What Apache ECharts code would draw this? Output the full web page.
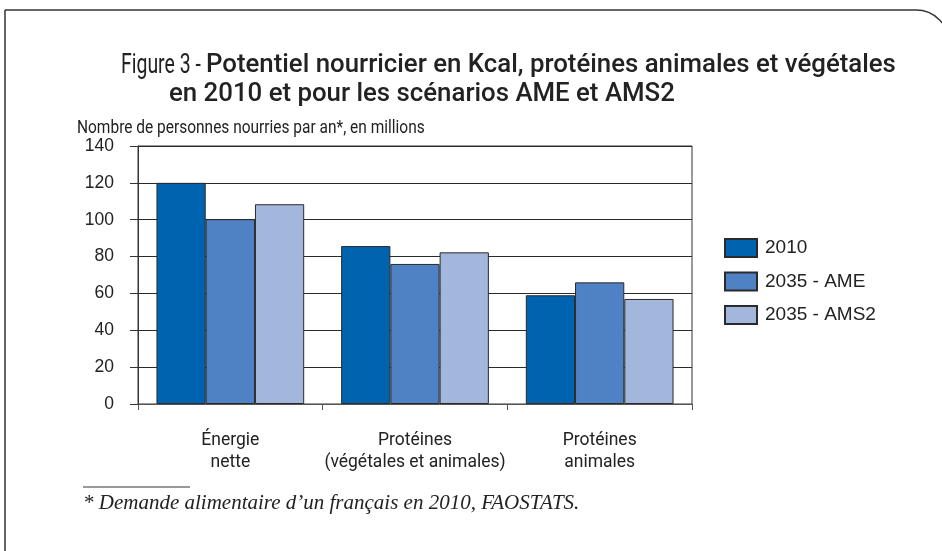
<!DOCTYPE html>
<html><head><meta charset="utf-8">
<script src="https://cdn.jsdelivr.net/npm/echarts@6/dist/echarts.min.js"></script>
<style>html,body{margin:0;padding:0;background:#fff}#c{width:942px;height:551px}</style>
</head><body><div id="c"></div>
<script>
const categories = ['Énergie\nnette', 'Protéines\n(végétales et animales)', 'Protéines\nanimales'];
const seriesNames = ['2010', '2035 - AME', '2035 - AMS2'];
const v2010 = [120, 85.7, 59];
const vAME = [100.3, 76, 66];
const vAMS2 = [108.4, 82.3, 57];
const yTicks = [0, 20, 40, 60, 80, 100, 120, 140];
const colors = ['#0063b0', '#4f82c4', '#a3b7dd'];

const chart = echarts.init(document.getElementById('c'), null, {renderer: 'canvas'});
const mk = (name, data, i) => ({
  name, type: 'bar', data, barGap: 0, barCategoryGap: '20%',
  itemStyle: {color: colors[i], borderColor: '#2a2a2a', borderWidth: 1},
  emphasis: {disabled: true}, animation: false
});
chart.setOption({
  animation: false,
  textStyle: {fontFamily: 'Roboto'},
  title: [
    {text: 'Potentiel nourricier en Kcal, protéines animales et végétales', left: 201, top: 48,
      textStyle: {fontFamily: 'Roboto', fontWeight: 500, fontSize: 25.8, color: '#222'}},
    {text: 'en 2010 et pour les scénarios AME et AMS2', left: 164, top: 77,
      textStyle: {fontFamily: 'Roboto', fontWeight: 500, fontSize: 25.8, color: '#222'}}
  ],
  legend: {
    data: seriesNames, orient: 'vertical', left: 719, top: 233,
    itemWidth: 32, itemHeight: 18, itemGap: 13.5,
    icon: 'rect',
    textStyle: {fontFamily: 'Liberation Sans', fontSize: 19, color: '#222', padding: [0, 0, 0, 3]}
  },
  grid: {left: 138, top: 146, right: 250, bottom: 147, show: true, borderColor: '#333', borderWidth: 1, backgroundColor: 'transparent'},
  xAxis: {
    type: 'category', data: categories,
    axisLine: {lineStyle: {color: '#555', width: 1}},
    axisTick: {show: true, alignWithLabel: false, length: 6, lineStyle: {color: '#555'}},
    axisLabel: {interval: 0, margin: 26, fontFamily: 'Roboto', fontSize: 17.5, color: '#222', lineHeight: 22}
  },
  yAxis: {
    type: 'value', min: 0, max: 140, interval: 20,
    axisLine: {show: true, lineStyle: {color: '#333', width: 1}},
    axisTick: {show: true, length: 8, lineStyle: {color: '#333'}},
    axisLabel: {margin: 24, fontFamily: 'Liberation Sans', fontSize: 17.5, color: '#222',
      formatter: v => yTicks.includes(v) ? String(v) : ''},
    splitLine: {show: true, lineStyle: {color: '#2a2a2a', width: 1}}
  },
  series: [mk(seriesNames[0], v2010, 0), mk(seriesNames[1], vAME, 1), mk(seriesNames[2], vAMS2, 2)],
  graphic: [
    {type: 'rect', silent: true, z: -10, shape: {x: 5, y: 10, width: 944, height: 600, r: [0, 33, 0, 0]},
      style: {fill: 'none', stroke: '#333', lineWidth: 1.5}},
    {type: 'text', silent: true, x: 121, y: 66, scaleX: 0.72, originX: 0,
      style: {text: 'Figure 3 -', font: '400 27px Roboto', fill: '#222', textVerticalAlign: 'middle'}},
    {type: 'text', silent: true, x: 77, y: 128, scaleX: 0.86, originX: 0,
      style: {text: 'Nombre de personnes nourries par an*, en millions', font: '400 18px Roboto', fill: '#222', textVerticalAlign: 'middle'}},
    {type: 'line', silent: true, shape: {x1: 83, y1: 487, x2: 190, y2: 487}, style: {stroke: '#333', lineWidth: 1}},
    {type: 'text', silent: true, left: 83, top: 493,
      style: {text: '* Demande alimentaire d’un français en 2010, FAOSTATS.', font: 'italic 21px "Liberation Serif"', fill: '#222'}}
  ]
});
</script></body></html>
